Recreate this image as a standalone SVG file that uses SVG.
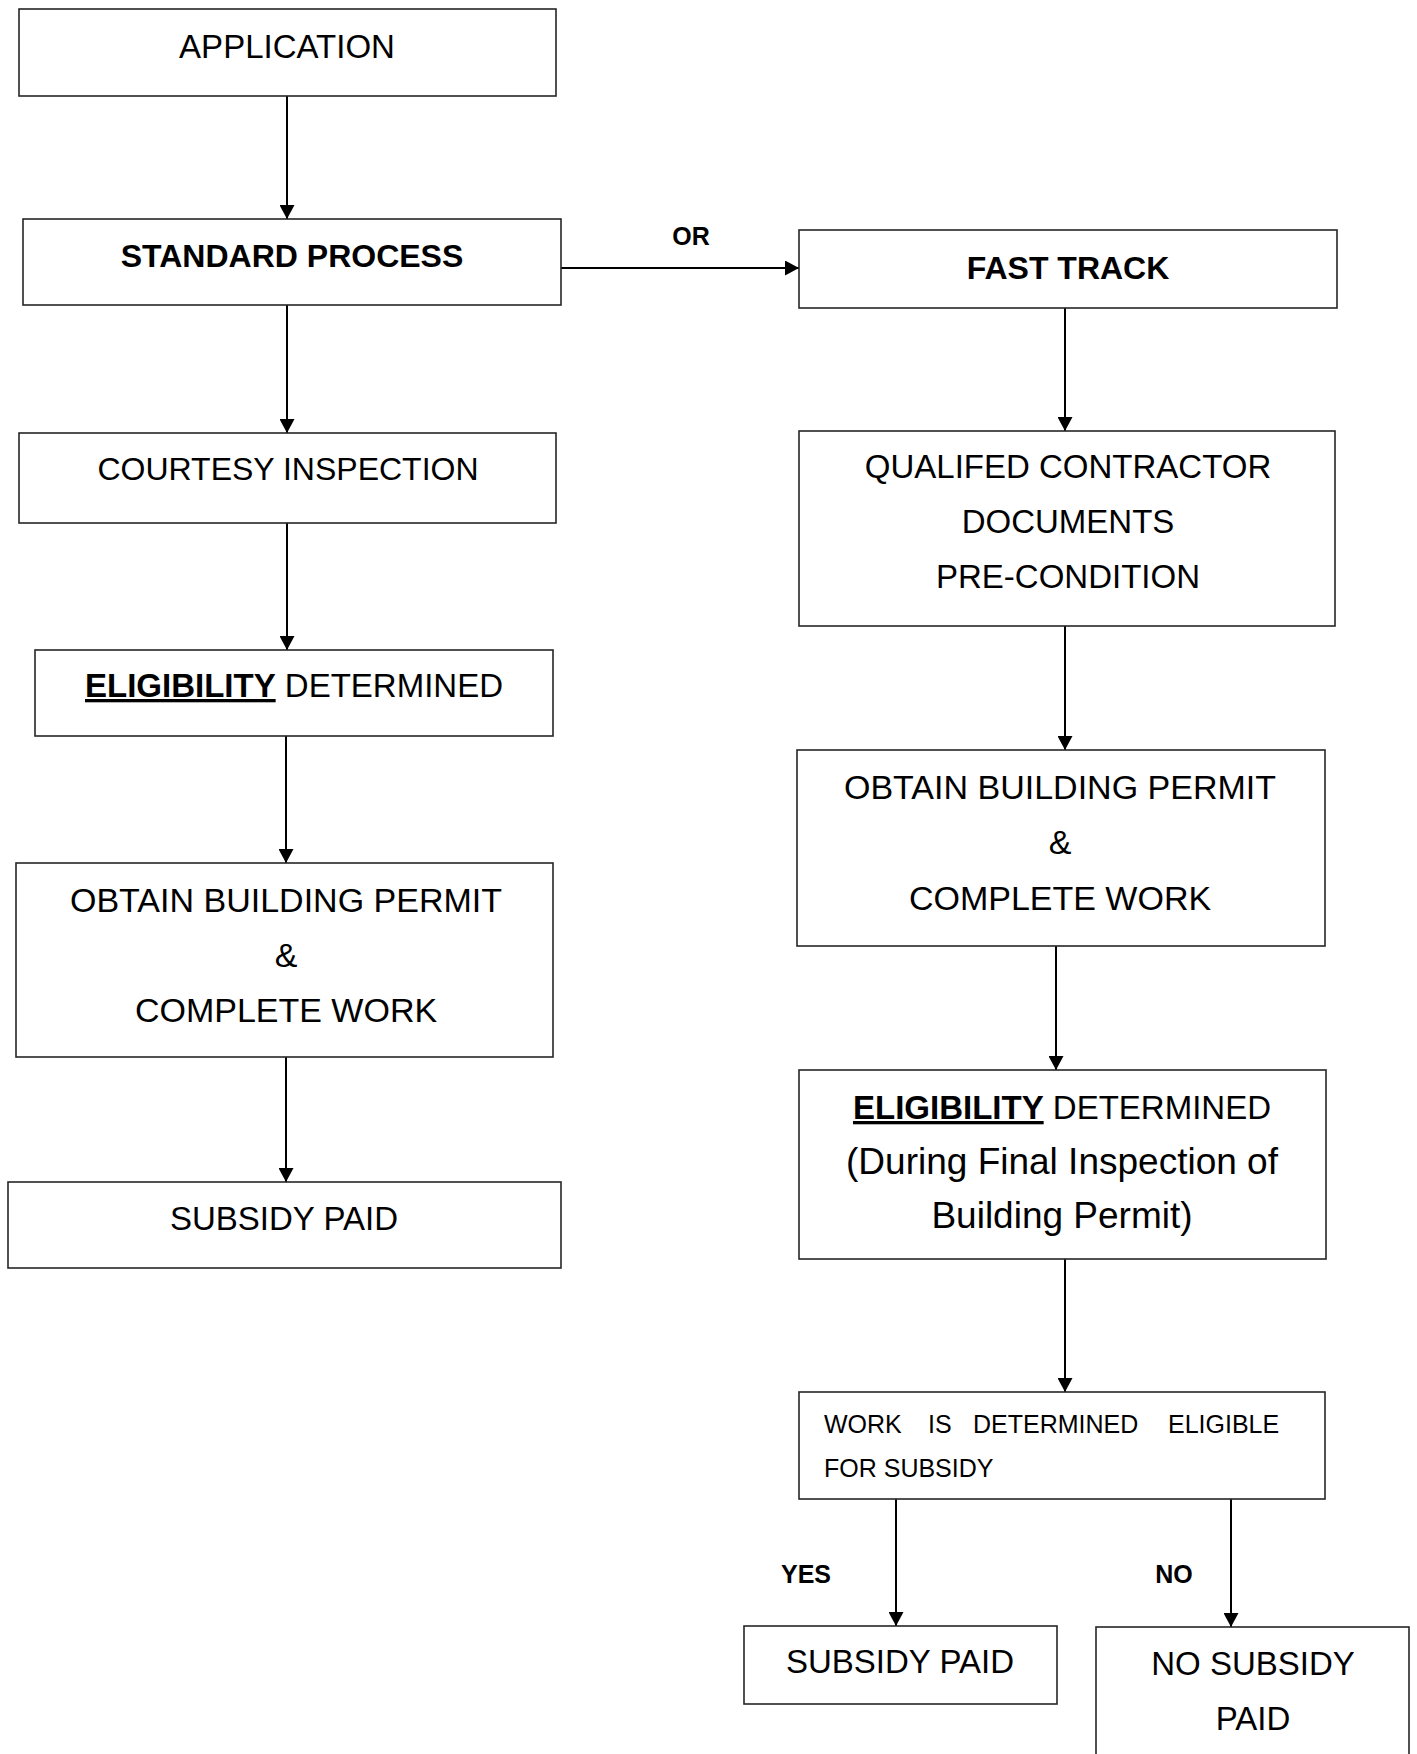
<svg xmlns="http://www.w3.org/2000/svg" width="1417" height="1754" viewBox="0 0 1417 1754">
<style>
  .box { fill: #ffffff; stroke: #262626; stroke-width: 1.6; }
  .t { font-family: "Liberation Sans", Arial, sans-serif; font-size: 33px; fill: #000; text-anchor: middle; }
  .b { font-weight: bold; font-size: 32px; }
  .w { font-size: 34px; }
  .m { font-size: 37px; }
  .s { font-family: "Liberation Sans", Arial, sans-serif; font-size: 25px; fill: #000; }
  .lbl { font-family: "Liberation Sans", Arial, sans-serif; font-size: 25px; font-weight: bold; fill: #000; text-anchor: middle; }
  .u { text-decoration: underline; font-weight: bold; }
  .c { fill: none; stroke: #000; stroke-width: 2; marker-end: url(#ah); }
</style>
<defs>
  <marker id="ah" viewBox="0 0 14 15" refX="14" refY="7.5" markerWidth="14" markerHeight="15" markerUnits="userSpaceOnUse" orient="auto">
    <path d="M0,0 L14,7.5 L0,15 Z" fill="#000"/>
  </marker>
</defs>
<rect width="1417" height="1754" fill="#ffffff"/>

<g id="connectors">
  <line class="c" x1="287" y1="96" x2="287" y2="219"/>
  <line class="c" x1="287" y1="305" x2="287" y2="433"/>
  <line class="c" x1="287" y1="523" x2="287" y2="650"/>
  <line class="c" x1="286" y1="736" x2="286" y2="863"/>
  <line class="c" x1="286" y1="1057" x2="286" y2="1182"/>
  <line class="c" x1="561" y1="268" x2="799" y2="268"/>
  <line class="c" x1="1065" y1="308" x2="1065" y2="431"/>
  <line class="c" x1="1065" y1="626" x2="1065" y2="750"/>
  <line class="c" x1="1056" y1="946" x2="1056" y2="1070"/>
  <line class="c" x1="1065" y1="1259" x2="1065" y2="1392"/>
  <line class="c" x1="896" y1="1499" x2="896" y2="1626"/>
  <line class="c" x1="1231" y1="1499" x2="1231" y2="1627"/>
  <text class="lbl" x="691" y="245">OR</text>
  <text class="lbl" x="806" y="1583">YES</text>
  <text class="lbl" x="1174" y="1583">NO</text>
</g>

<g id="application">
  <rect class="box" x="19" y="9" width="537" height="87"/>
  <text class="t" x="287" y="58">APPLICATION</text>
</g>
<g id="standard-process">
  <rect class="box" x="23" y="219" width="538" height="86"/>
  <text class="t b" x="292" y="267">STANDARD PROCESS</text>
</g>
<g id="fast-track">
  <rect class="box" x="799" y="230" width="538" height="78"/>
  <text class="t b" x="1068" y="279">FAST TRACK</text>
</g>
<g id="courtesy-inspection">
  <rect class="box" x="19" y="433" width="537" height="90"/>
  <text class="t" x="288" y="480" style="font-size:32px">COURTESY INSPECTION</text>
</g>
<g id="eligibility-left">
  <rect class="box" x="35" y="650" width="518" height="86"/>
  <text class="t" x="294" y="697"><tspan class="u">ELIGIBILITY</tspan> DETERMINED</text>
</g>
<g id="obtain-left">
  <rect class="box" x="16" y="863" width="537" height="194"/>
  <text class="t w" x="286" y="912">OBTAIN BUILDING PERMIT</text>
  <text class="t w" x="286" y="967">&amp;</text>
  <text class="t w" x="286" y="1022">COMPLETE WORK</text>
</g>
<g id="subsidy-left">
  <rect class="box" x="8" y="1182" width="553" height="86"/>
  <text class="t" x="284" y="1230">SUBSIDY PAID</text>
</g>
<g id="qualified">
  <rect class="box" x="799" y="431" width="536" height="195"/>
  <text class="t" x="1068" y="478">QUALIFED CONTRACTOR</text>
  <text class="t" x="1068" y="533">DOCUMENTS</text>
  <text class="t" x="1068" y="588">PRE-CONDITION</text>
</g>
<g id="obtain-right">
  <rect class="box" x="797" y="750" width="528" height="196"/>
  <text class="t w" x="1060" y="799">OBTAIN BUILDING PERMIT</text>
  <text class="t w" x="1060" y="854">&amp;</text>
  <text class="t w" x="1060" y="910">COMPLETE WORK</text>
</g>
<g id="eligibility-right">
  <rect class="box" x="799" y="1070" width="527" height="189"/>
  <text class="t" x="1062" y="1119"><tspan class="u">ELIGIBILITY</tspan> DETERMINED</text>
  <text class="t m" x="1062" y="1174">(During Final Inspection of</text>
  <text class="t m" x="1062" y="1228">Building Permit)</text>
</g>
<g id="work-eligible">
  <rect class="box" x="799" y="1392" width="526" height="107"/>
  <text class="s" x="824" y="1433">WORK</text>
  <text class="s" x="928" y="1433">IS</text>
  <text class="s" x="973" y="1433">DETERMINED</text>
  <text class="s" x="1168" y="1433">ELIGIBLE</text>
  <text class="s" x="824" y="1477">FOR SUBSIDY</text>
</g>
<g id="subsidy-right">
  <rect class="box" x="744" y="1626" width="313" height="78"/>
  <text class="t" x="900" y="1673">SUBSIDY PAID</text>
</g>
<g id="no-subsidy">
  <rect class="box" x="1096" y="1627" width="313" height="140"/>
  <text class="t" x="1253" y="1675">NO SUBSIDY</text>
  <text class="t" x="1253" y="1730">PAID</text>
</g>
</svg>
